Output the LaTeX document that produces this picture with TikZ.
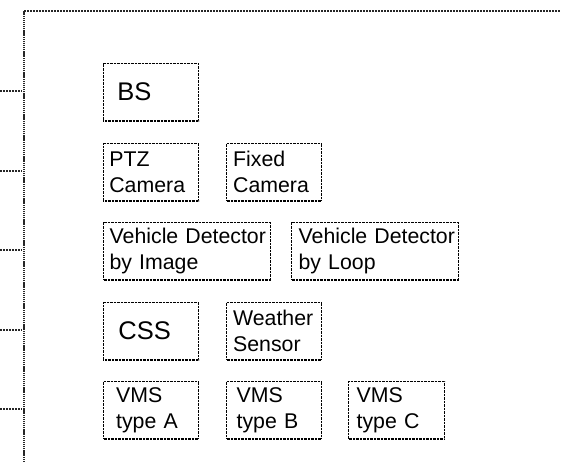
\documentclass[tikz,border=0pt]{standalone}
\usepackage{fontspec}
\setmainfont{Liberation Sans}
\begin{document}
\begin{tikzpicture}[x=1pt,y=-1pt,
  box/.style={draw=black, line width=1.3pt, dash pattern=on 1pt off 0.4pt,
    anchor=north west, minimum height=57.5pt, inner ysep=0pt, align=left,
    font=\fontsize{21.3}{25.5}\selectfont},
  bigtext/.style={font=\fontsize{25.5}{30}\selectfont},
  frameh/.style={draw=black!85, line width=1.5pt, dash pattern=on 1.5pt off 1.5pt},
  framev/.style={draw=black!85, line width=1.6pt, dash pattern=on 1.3pt off 0.8pt}]
\useasboundingbox (0,0) rectangle (569,462);
% frame
\coordinate (fb) at (24,462);
\coordinate (fc) at (24,11);
\coordinate (fr) at (561,11);
\draw[framev] (fb) -- (fc);
\draw[frameh] (fc) -- (fr);
% stubs
\foreach \i/\y in {1/91,2/171,3/250,4/330,5/409}{
  \coordinate (s\i a) at (0,\y);
  \coordinate (s\i b) at (22,\y);
  \draw[frameh] (s\i a) -- (s\i b);
}
% boxes
\node[box, bigtext, text width=67.3pt, inner xsep=14pt] (bs) at (102.7,63) {\raisebox{2pt}{BS}};
\node[box, text width=83.3pt, inner xsep=6pt] (ptz) at (102.7,142.7) {PTZ\\Camera};
\node[box, text width=82pt, inner xsep=6.5pt] (fixed) at (226,142.7) {Fixed\\Camera};
\node[box, text width=161pt, inner xsep=3pt] (vdi) at (103,221.7) {\mbox{\hspace*{3pt}Vehicle Detector}\\\mbox{\hspace*{3pt}by Image}};
\node[box, text width=161pt, inner xsep=3pt] (vdl) at (291,221.7) {\mbox{\hspace*{4pt}Vehicle Detector}\\\mbox{\hspace*{4pt}by Loop}};
\node[box, bigtext, text width=65.3pt, inner xsep=15pt] (css) at (102.7,301.7) {\raisebox{-4pt}{CSS}};
\node[box, text width=82pt, inner xsep=6.5pt] (ws) at (226,301.7) {Weather\\Sensor};
\node[box, text width=70pt, inner xsep=12.5pt] (vmsa) at (103,380.7) {VMS\\type A};
\node[box, text width=75pt, inner xsep=10pt] (vmsb) at (226,380.7) {VMS\\type B};
\node[box, text width=80pt, inner xsep=8pt] (vmsc) at (348,380.7) {VMS\\type C};
\end{tikzpicture}
\end{document}
